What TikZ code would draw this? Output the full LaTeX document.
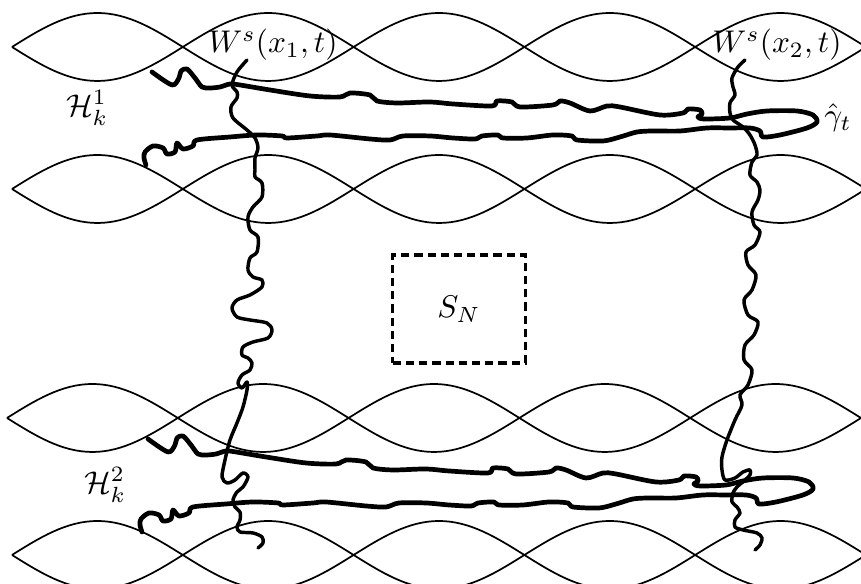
\documentclass[tikz,border=0pt]{standalone}
\usepackage{amsmath}

\def\lensw{170.8}   % width of one lens
\def\lensh{34}      % half height of one lens

\begin{document}
\begin{tikzpicture}[x=0.0112cm, y=-0.0112cm,
    lens/.style={line width=0.55pt},
    gammaline/.style={line width=1.5pt, line join=round, line cap=round},
    fibre/.style={line width=1.1pt, line join=round, line cap=round}]
  \useasboundingbox (0,0) rectangle (861,584);
  \clip (0,0) rectangle (861,584);

  % four rows of lenses
  \foreach \yc/\xs in {47/12, 189/12, 418/7, 555/12} {
    \foreach \i in {0,...,4} {
      \draw[lens] (\xs+\i*\lensw,\yc) sin ++(0.5*\lensw,-\lensh) cos ++(0.5*\lensw,\lensh);
      \draw[lens] (\xs+\i*\lensw,\yc) sin ++(0.5*\lensw,\lensh) cos ++(0.5*\lensw,-\lensh);
    }
  }

  % the curve gamma, once in each band
  \foreach \dx/\dy in {0/0, -4/367} {
    \draw[gammaline, shift={(\dx,\dy)}] plot[smooth, tension=0.5] coordinates {
      (152,72) (172,85) (179,78) (181,71) (187,69) (195,78) (202,87) (210,88)
      (220,87) (230,84) (240,85) (270,90) (310,96) (340,97) (350,93) (370,95)
      (377,101) (397,103) (430,102) (453,104) (492,106) (497,101) (512,102)
      (520,107) (553,105) (560,101) (570,103) (590,111) (607,106) (620,107)
      (660,115) (683,113) (688,109) (700,110) (702,114) (698,117) (704,119)
      (730,118) (747,114) (767,111) (797,111) (813,115) (817,122) (807,128)
      (780,135) (763,137) (760,131) (750,128) (730,128) (707,128) (680,131)
      (653,131) (637,132) (620,137) (603,141) (577,140) (572,136) (553,135)
      (527,138) (503,138) (498,135) (482,136) (475,139) (453,138) (430,136)
      (403,136) (390,140) (370,139) (330,135) (317,136) (287,138) (282,136)
      (257,135) (230,137) (197,140) (193,146) (183,149) (177,143) (175,152)
      (167,154) (163,148) (153,146) (145,152) (144,158) (146,165)};
  }

  % stable fibres
  \draw[fibre] plot[smooth, tension=0.5] coordinates {
    (247,60) (237,72) (232,85) (237,92) (237,98) (231,107) (233,118) (247,130)
    (255,138) (258,148) (255,158) (255,170) (255,177) (262,183) (262,197)
    (253,207) (248,217) (250,230) (258,237) (257,252) (250,258) (248,270)
    (253,277) (262,280) (262,287) (250,295) (237,300) (232,308) (237,317)
    (250,320) (267,323) (272,330) (268,338) (253,342) (243,347) (242,355)
    (248,358) (252,363) (250,370) (242,375) (238,383) (242,388) (247,382)
    (247,390) (243,407) (237,423) (230,440) (225,460) (222,477) (227,483)
    (235,480) (243,473) (248,477) (243,487) (237,492) (233,500) (235,507)
    (240,512) (240,520) (237,527) (240,532) (253,533) (262,537) (263,543)
    (258,548)};
  \draw[fibre] plot[smooth, tension=0.5] coordinates {
    (745,60) (738,67) (732,78) (733,87) (735,95) (730,103) (730,113) (733,120)
    (743,127) (750,135) (755,145) (757,155) (752,162) (750,175) (757,182)
    (760,190) (758,200) (752,212) (754,225) (760,232) (755,245) (746,252)
    (748,265) (756,275) (752,290) (744,300) (748,315) (758,322) (754,335)
    (745,345) (744,360) (752,370) (748,385) (740,395) (742,405) (735,420)
    (727,440) (722,457) (722,470) (725,480) (735,478) (743,472) (750,470)
    (750,475) (745,480) (737,487) (733,493) (732,502) (737,507) (740,513)
    (735,520) (735,527) (743,530) (757,533) (762,538) (760,545) (755,550)};

  % labels
  \node (wsone) at (273,45) {$W^s(x_1,t)$};
  \node (wstwo) at (777,45) {$W^s(x_2,t)$};
  \node (hone) at (87,108) {$\mathcal{H}_k^1$};
  \node (htwo) at (105,485) {$\mathcal{H}_k^2$};
  \node (gamma) at (838,118) {$\hat\gamma_t$};
  \node[draw, line width=1pt, dash pattern=on 2.6pt off 1.6pt,
        minimum width=1.48cm, minimum height=1.21cm] (sn) at (459,309) {$S_N$};
\end{tikzpicture}
\end{document}
